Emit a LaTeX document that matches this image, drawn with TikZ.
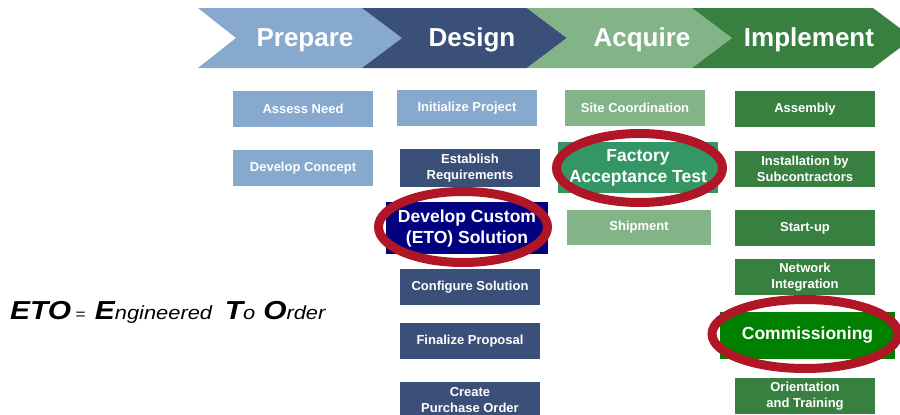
\documentclass[tikz,border=0pt]{standalone}
\usepackage{fontspec}
\usepackage{graphicx}
\setmainfont{Liberation Sans}
\usetikzlibrary{positioning}

\definecolor{prepblue}{RGB}{135,169,205}
\definecolor{dsgnblue}{RGB}{59,80,120}
\definecolor{navyblue}{RGB}{0,0,128}
\definecolor{acqgreen}{RGB}{130,180,135}
\definecolor{fatgreen}{RGB}{51,150,100}
\definecolor{implgreen}{RGB}{56,128,64}
\definecolor{commgreen}{RGB}{0,128,0}
\definecolor{ringred}{RGB}{176,22,38}

\newcommand{\bigletter}[1]{{\bfseries\itshape\fontsize{26}{28}\selectfont #1}}
\newcommand{\restletters}[1]{{\itshape\fontsize{19}{20}\selectfont #1}}

\begin{document}
\begin{tikzpicture}[x=1pt, y=-1pt,
    phase/.style={text=white, font=\bfseries\fontsize{26}{28}\selectfont},
    task/.style={rectangle, inner sep=0pt, minimum width=140pt, minimum height=36pt, align=center, text=white, font=\bfseries\fontsize{13}{16}\selectfont},
    keytask/.style={task, font=\bfseries\fontsize{17.5}{21}\selectfont},
    ring/.style={draw=ringred, line width=9pt}]
        \useasboundingbox (0,0) rectangle (900,415);
        \clip (0,0) rectangle (900,415);

        % phase chevrons
        \fill[prepblue] (198,8) -- (362,8) -- (402,38) -- (362,68) -- (198,68) -- (236,38) -- cycle;
        \fill[dsgnblue] (362,8) -- (527,8) -- (567,38) -- (527,68) -- (362,68) -- (402,38) -- cycle;
        \fill[acqgreen] (527,8) -- (692,8) -- (732,38) -- (692,68) -- (527,68) -- (567,38) -- cycle;
        \fill[implgreen] (692,8) -- (873,8) -- (913,38) -- (873,68) -- (692,68) -- (732,38) -- cycle;

        \node[phase] (prepare) at (305,40) {Prepare};
        \node[phase] (design) at (472,40) {Design};
        \node[phase] (acquire) at (642,40) {Acquire};
        \node[phase] (implement) at (809,40) {Implement};

        % prepare
        \node[task, fill=prepblue] (assess) at (303,108.5) {Assess Need};
        \node[task, fill=prepblue] (concept) at (303,168) {Develop Concept};

        % design
        \node[task, fill=prepblue] (init) at (467,108) {Initialize Project};
        \node[task, fill=dsgnblue, minimum height=38pt] (reqs) at (470,168) {Establish\\Requirements};
        \node[keytask, fill=navyblue, minimum width=162pt, minimum height=52pt] (custom) at (467,228) {Develop Custom\\(ETO) Solution};
        \node[task, fill=dsgnblue] (config) at (470,287) {Configure Solution};
        \node[task, fill=dsgnblue] (proposal) at (470,341) {Finalize Proposal};
        \node[task, fill=dsgnblue] (order) at (470,400) {Create\\Purchase Order};

        % acquire
        \node[task, fill=acqgreen] (site) at (635,108) {Site Coordination};
        \node[keytask, fill=fatgreen, minimum width=160pt, minimum height=51pt] (fat) at (638,167.5) {Factory\\Acceptance Test};
        \node[task, fill=acqgreen, minimum width=144pt, minimum height=35pt] (ship) at (639,227.5) {Shipment};

        % implement
        \node[task, fill=implgreen] (assembly) at (805,109) {Assembly};
        \node[task, fill=implgreen] (install) at (805,169) {Installation by\\Subcontractors};
        \node[task, fill=implgreen] (startup) at (805,228) {Start-up};
        \node[task, fill=implgreen] (network) at (805,277) {Network\\Integration};
        \node[keytask, fill=commgreen, minimum width=175pt, minimum height=47pt] (comm) at (807.5,335.5) {Commissioning};
        \node[task, fill=implgreen] (training) at (805,396) {Orientation\\and Training};

        % highlight rings
        \draw[ring] (463,227) ellipse [x radius=84.5, y radius=35.5];
        \draw[ring] (639.5,168) ellipse [x radius=83, y radius=34.5];
        \draw[ring] (805,334) ellipse [x radius=93, y radius=34.5];

        % acronym
        \node[anchor=base west, inner sep=0pt] (eto) at (10,319)
            {\scalebox{1.15}[1]{\bigletter{ETO}\hspace{4pt}{\fontsize{15}{16}\selectfont =}\hspace{8pt}%
             \bigletter{E}\restletters{ngineered}\hspace{11pt}%
             \bigletter{T}\restletters{o}\hspace{7pt}%
             \bigletter{O}\restletters{rder}}};
    \end{tikzpicture}
\end{document}
